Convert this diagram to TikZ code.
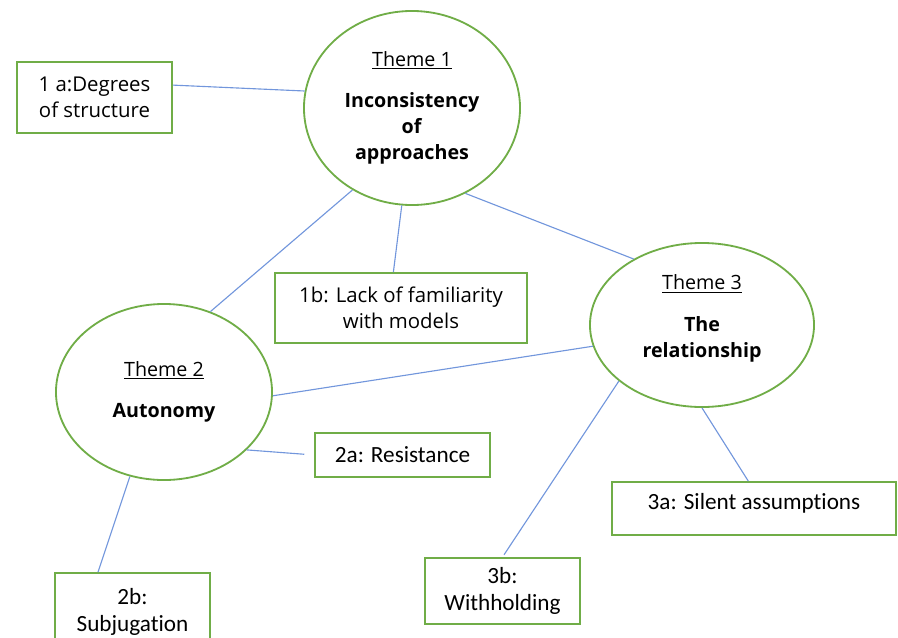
\documentclass[tikz,border=0pt]{standalone}
\usepackage{fontspec}
\setmainfont{Open Sans}
\newfontfamily\calibfont[Ligatures=NoCommon]{Carlito}
\usepackage{tikz}
\usetikzlibrary{shapes.geometric,calc}
\definecolor{themegreen}{RGB}{112,173,71}
\definecolor{linkblue}{RGB}{114,150,220}

\begin{document}
\begin{tikzpicture}[x=0.025cm, y=-0.025cm,
	theme/.style={ellipse, draw=themegreen, line width=1.3pt, inner sep=0pt, align=center,
		font=\fontsize{14}{18.5}\selectfont},
	subbox/.style={rectangle, draw=themegreen, line width=1.3pt, inner sep=0pt, align=center,
		font=\fontsize{14.5}{18.5}\selectfont},
	calbox/.style={subbox, font=\calibfont\fontsize{16.5}{19}\selectfont},
	link/.style={draw=linkblue, line width=0.8pt}]
	\useasboundingbox (0,0) rectangle (898,637);
	
	\node[theme, minimum width=5.4cm, minimum height=4.85cm] (t1) at (412,108)
		{\underline{Theme 1}\\[11pt]\textbf{Inconsistency}\\\textbf{of}\\\textbf{approaches}};
	\node[theme, minimum width=5.4cm, minimum height=4.4cm] (t2) at (164,392)
		{\underline{Theme 2}\\[11pt]\textbf{Autonomy}};
	\node[theme, minimum width=5.6cm, minimum height=4.1cm] (t3) at (702,325)
		{\underline{Theme 3}\\[11pt]\textbf{The}\\\textbf{relationship}\\[-6pt]\mbox{}};
	
	\node[subbox, minimum width=3.875cm, minimum height=1.775cm] (b1a) at (94.5,97.5)
		{1 a:Degrees\\of structure};
	\node[subbox, minimum width=6.3cm, minimum height=1.75cm] (b1b) at (401,308)
		{1b: Lack of familiarity\\with models};
	\node[calbox, minimum width=4.375cm, minimum height=1.1cm] (b2a) at (402.5,455)
		{2a: Resistance};
	\node[calbox, minimum width=3.875cm, minimum height=1.95cm] (b2b) at (132.5,612)
		{2b:\\Subjugation};
	\node[calbox, minimum width=7.1cm, minimum height=1.325cm, text depth=10.5pt] (b3a) at (754,508.5)
		{3a: Silent assumptions};
	\node[calbox, minimum width=3.875cm, minimum height=1.65cm] (b3b) at (502.5,591)
		{3b:\\Withholding};
	
	\draw[link] ($(b1a.north east)!0.33!(b1a.south east)$) -- (t1.171);
	\draw[link] (t1.234) -- (t2.60);
	\draw[link] (t1.264) -- ($(b1b.north west)!0.47!(b1b.north east)$);
	\draw[link] (t1.302) -- (t3.136);
	\draw[link] (t3.191) -- (t2.358);
	\draw[link, shorten >=7pt] (t2.325) -- (b2a.west);
	\draw[link] (t2.248) -- ($(b2b.north west)!0.28!(b2b.north east)$);
	\draw[link, shorten >=2pt] (t3.214) -- (b3b.north);
	\draw[link] (t3.270) -- ($(b3a.north west)!0.48!(b3a.north east)$);
\end{tikzpicture}
\end{document}
